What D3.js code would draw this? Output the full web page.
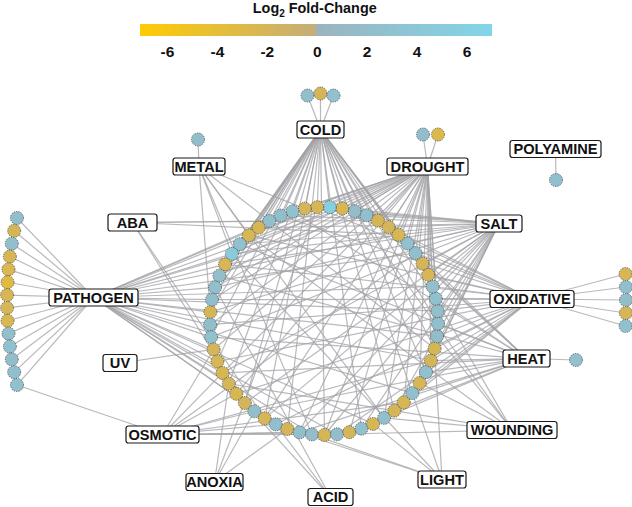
<!DOCTYPE html>
<html><head><meta charset="utf-8">
<script src="https://cdn.jsdelivr.net/npm/d3@7"></script>
<style>
body{margin:0;background:#fff}
svg{display:block}
text{font-family:"Liberation Sans",Arial,Helvetica,sans-serif;font-weight:bold;fill:#111}
</style>
</head><body>
<svg id="chart" width="632" height="507"></svg>
<script>
// ---------------- DATA ----------------
// log2 fold-change of the genes arranged on the ring
const ringValues = [
  -2.1, 2.2, 2.5, -1.9, -2.2, -2.4, -2.0, -2.3, -1.8, 2.1,
  -2.2, 2.4, -2.0, 2.3, 2.0, -2.1, 2.2, -1.9, 2.5, -2.3,
  2.1, -2.0, -2.4, 2.3, -2.2, 2.6, -1.8, -2.1, 2.2, 2.4,
  2.3, 2.5, 2.1, -2.2, -2.0, 2.4, 2.6, -2.3, -1.9, -2.1,
  2.3, 2.0, -2.4, 5.8, -2.2, -2.0, 2.5, 2.2, 2.4, -2.1,
  -2.3, 2.6, 4.8, -2.2, 2.1, 2.4, 2.2
];
// stress categories (hubs)
const hubs = ["COLD","DROUGHT","METAL","POLYAMINE","ABA","SALT","PATHOGEN","OXIDATIVE",
              "UV","HEAT","OSMOTIC","WOUNDING","ANOXIA","LIGHT","ACID"];
// ring genes linked to each hub (indices into ringValues), same order as hubs
const hubRingLinks = [
  [39,40,41,43,44,45,46,47,48,49,50,51,53,54,55,56,0,2,4,8,12,15,18,21,25,29,31,34,36,37,6,10,23,27,33,42,52], // COLD
  [35,36,38,39,41,42,44,46,47,48,50,51,52,54,56,1,3,5,7,10,13,17,22,24,27,30,33,15,20,26,29,32,37,53,55],       // DROUGHT
  [0,52,50,45,14,20,27],                                                                  // METAL
  [],                                                                                     // POLYAMINE
  [48,39,37,8,10],                                                                        // ABA
  [30,32,33,34,36,38,40,43,45,49,51,53,55,0,5,10,15,18,21,25,27,29,2,8,13,24,41,47,52],   // SALT
  [0,1,2,4,6,55,56,53,52,49,46,42,37,32,30,28,23,19,16,11,8,3,5,14,26,35,40,44],          // PATHOGEN
  [24,26,28,30,31,32,33,35,38,42,47,53,56,1,4,16,19,7,11,21,27,44,50],                    // OXIDATIVE
  [3],                                                                                    // UV
  [21,23,25,26,29,31,34,37,46,54,2,9,5,13,17,39,51],                                      // HEAT
  [3,5,7,9,11,13,14,17,22,26,35],                                                         // OSMOTIC
  [16,20,24,28,31,41,50,6],                                                               // WOUNDING
  [6,9,12,44],                                                                            // ANOXIA
  [14,12,19,23,27,52],                                                                    // LIGHT
  [11,8,55]                                                                               // ACID
];
// genes specific to a single hub (log2 FC), same order as hubs
const hubLeafValues = [
  [2.3,-2.0,2.5],          // COLD
  [2.2,-2.9],              // DROUGHT
  [2.0],                   // METAL
  [2.4],                   // POLYAMINE
  [], [],                  // ABA, SALT
  [2.2,-2.1,2.4,-2.3,-2.5,-3.4,-2.4,-2.2,-2.5,2.3,2.5,2.2,2.4,2.6], // PATHOGEN
  [-2.3,2.4,2.2,-2.2,2.5], // OXIDATIVE
  [],                      // UV
  [2.6],                   // HEAT
  [], [], [], [], []
];
// extra links from a hub to another hub's leaf gene: [hub, ownerHub, leafIndex]
const sharedLeafLinks = [["OSMOTIC","PATHOGEN",13]];
const legendTicks = [-6,-4,-2,0,2,4,6];
const legendTitle = "Log";
const legendTitleSub = "2";
const legendTitleRest = " Fold-Change";

// ---------------- LAYOUT (positions / styles) ----------------
const ringCenter = {x:324, y:321}, ringRadius = 114, nodeR = 6.5;
const hubLayout = {
  COLD:{x:320.5,y:129.5,w:47}, DROUGHT:{x:427.5,y:166.5,w:81}, METAL:{x:199,y:166.5,w:52},
  POLYAMINE:{x:555.5,y:149,w:91}, ABA:{x:132.5,y:222.5,w:49}, SALT:{x:499,y:223.5,w:46},
  PATHOGEN:{x:93.5,y:297.5,w:89}, OXIDATIVE:{x:532,y:299,w:84}, UV:{x:120,y:363,w:34},
  HEAT:{x:526.5,y:358.5,w:47}, OSMOTIC:{x:162.5,y:434.5,w:73}, WOUNDING:{x:512,y:430,w:90},
  ANOXIA:{x:214.5,y:482,w:57}, LIGHT:{x:442,y:479.5,w:48}, ACID:{x:330.5,y:497,w:45}
};
const leafLayout = {
  COLD:{dx:0,dy:-36,axis:"x",gap:13,bow:0.012},
  DROUGHT:{dx:3,dy:-32,axis:"x",gap:15,bow:0},
  METAL:{dx:-1,dy:-27,axis:"x",gap:13,bow:0},
  POLYAMINE:{dx:0.5,dy:31,axis:"x",gap:13,bow:0},
  HEAT:{dx:49.5,dy:1.5,axis:"y",gap:13,bow:0},
  OXIDATIVE:{dx:94,dy:1,axis:"y",gap:13,bow:0.0006},
  PATHOGEN:{dx:-86.5,dy:4,axis:"y",gap:12.85,bow:0.00143}
};
const boxH = 17;

// ---------------- SCALES ----------------
const svg = d3.select("#chart");
const lx = d3.scaleLinear().domain([-7.1, 7.0]).range([140, 492]);
const color = d3.scaleLinear()
  .domain([-7.1, -0.001, 0, 7.0])
  .range(["#FFCB05", "#C4AD7A", "#9AB4BF", "#82D5E8"])
  .interpolate(d3.interpolateRgb);
const angle = d3.scaleLinear().domain([0, ringValues.length])
  .range([184.5*Math.PI/180, (184.5-360)*Math.PI/180]);

// ring node positions
const ringNodes = ringValues.map((v,i)=>({v,
  x: ringCenter.x + ringRadius*Math.cos(angle(i)),
  y: ringCenter.y + ringRadius*Math.sin(angle(i))}));

// leaf node positions
const leafNodes = {};
hubs.forEach((h,hi)=>{
  const vals = hubLeafValues[hi]; if(!vals.length) return;
  const L = leafLayout[h], H = hubLayout[h], n = vals.length;
  leafNodes[h] = vals.map((v,k)=>{
    const t = (k-(n-1)/2)*L.gap;
    if(L.axis==="x"){
      const s = L.dy<0?1:-1;
      return {v, x:H.x+L.dx+t, y:H.y+L.dy+s*L.bow*t*t};
    } else {
      const s = L.dx<0?1:-1;
      return {v, x:H.x+L.dx+s*L.bow*t*t, y:H.y+L.dy+t};
    }
  });
});

// edges
const edges = [];
hubs.forEach((h,hi)=>{
  const H = hubLayout[h];
  hubRingLinks[hi].forEach(j=>edges.push({x1:H.x,y1:H.y,x2:ringNodes[j].x,y2:ringNodes[j].y}));
  (leafNodes[h]||[]).forEach(n=>edges.push({x1:H.x,y1:H.y,x2:n.x,y2:n.y}));
});
sharedLeafLinks.forEach(([h,o,k])=>{
  const H = hubLayout[h], n = leafNodes[o][k];
  edges.push({x1:H.x,y1:H.y,x2:n.x,y2:n.y});
});

svg.append("g").selectAll("line").data(edges).join("line")
  .attr("x1",d=>d.x1).attr("y1",d=>d.y1).attr("x2",d=>d.x2).attr("y2",d=>d.y2)
  .attr("stroke","#a2a2a7").attr("stroke-width",1.2).attr("stroke-opacity",0.75);

// nodes
const allNodes = ringNodes.concat(...Object.values(leafNodes));
svg.append("g").selectAll("circle").data(allNodes).join("circle")
  .attr("cx",d=>d.x).attr("cy",d=>d.y).attr("r",nodeR)
  .attr("fill",d=>color(d.v))
  .attr("stroke","#3a3a3a").attr("stroke-width",0.7).attr("stroke-dasharray","1.3,1.1");

// hub labels
const hg = svg.append("g").selectAll("g").data(hubs).join("g")
  .attr("transform",h=>`translate(${hubLayout[h].x},${hubLayout[h].y})`);
hg.append("rect")
  .attr("x",h=>-hubLayout[h].w/2).attr("y",-boxH/2)
  .attr("width",h=>hubLayout[h].w).attr("height",boxH)
  .attr("rx",2.5).attr("fill","#fff").attr("stroke","#1a1a1a").attr("stroke-width",1.2);
hg.append("text").attr("text-anchor","middle").attr("dy","0.36em")
  .attr("font-size",14.6).text(h=>h);

// legend
const defs = svg.append("defs");
const grad = defs.append("linearGradient").attr("id","lg")
  .attr("gradientUnits","userSpaceOnUse").attr("x1",lx(-7.1)).attr("x2",lx(7.0)).attr("y1",0).attr("y2",0);
d3.range(-7.1, 7.0001, 0.1).forEach(v=>{
  grad.append("stop").attr("offset",(lx(v)-140)/352).attr("stop-color",color(v));
});
svg.append("rect").attr("x",lx(-7.1)).attr("y",24).attr("width",lx(7.0)-lx(-7.1)).attr("height",12)
  .attr("fill","url(#lg)");
svg.append("g").selectAll("text").data(legendTicks).join("text")
  .attr("x",d=>lx(d)).attr("y",57).attr("text-anchor","middle").attr("font-size",15.5)
  .text(d=>d);
const tt = svg.append("text").attr("x",lx(-0.1)).attr("y",13).attr("text-anchor","middle").attr("font-size",14.4);
tt.append("tspan").text(legendTitle);
tt.append("tspan").attr("font-size",10).attr("dy",4).text(legendTitleSub);
tt.append("tspan").attr("dy",-4).text(legendTitleRest);
</script>
</body></html>
